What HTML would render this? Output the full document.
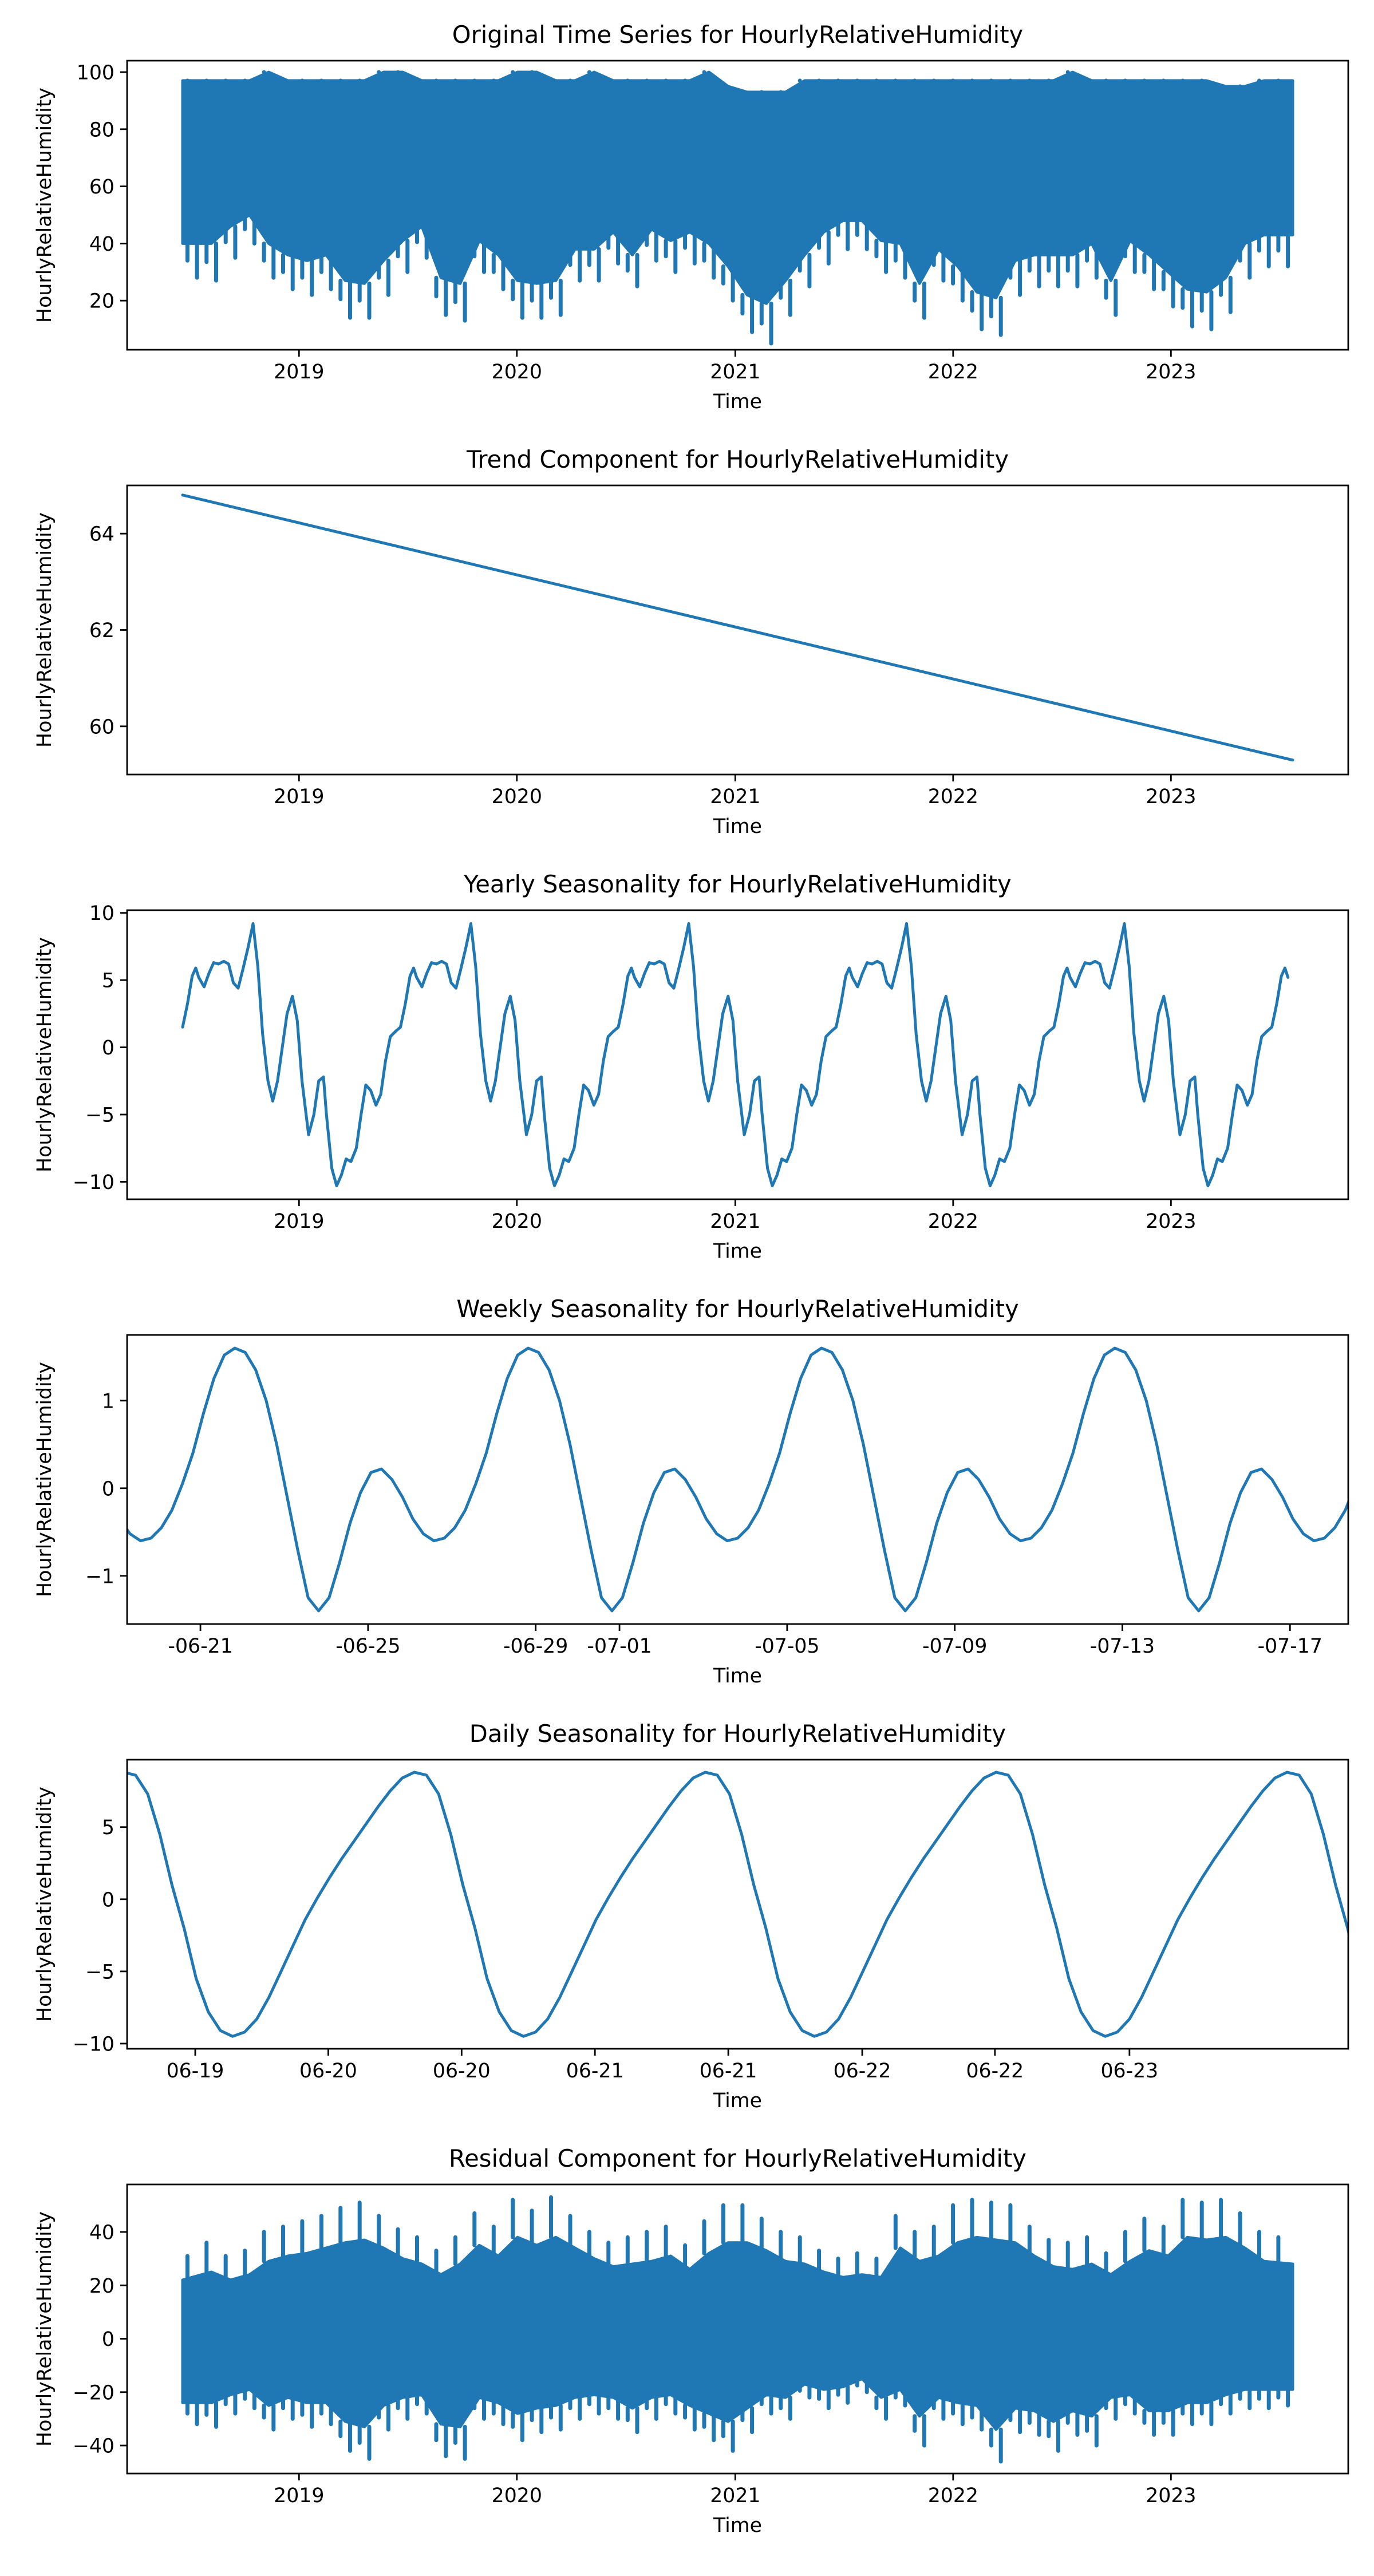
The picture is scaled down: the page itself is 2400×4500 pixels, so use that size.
<!DOCTYPE html>
<html><head><meta charset="utf-8">
<style>
html,body{margin:0;padding:0;background:#fff;}
svg{display:block;}
text{font-family:"DejaVu Sans","Liberation Sans",sans-serif;fill:#000;}
</style></head>
<body>
<svg id="fig" width="2400" height="4500" viewBox="0 0 2400 4500" xmlns="http://www.w3.org/2000/svg">
<rect x="0" y="0" width="2400" height="4500" fill="#fff"/>
</svg>
<script>
// ---------- data ----------
const dataEndDay = 1860;
const yearTickLabels = ["2019","2020","2021","2022","2023"];
const yearTickDays = [195, 560, 926, 1291, 1656];

// Original series: per-bin upper / solid-core lower / spike lower (58 bins)
const origUpper = [97,97,97,97,100,97,97,97,97,97,100,100,97,97,97,97,97,100,100,97,97,100,97,97,97,97,97,100,95,93,93,93,97,97,97,97,97,97,97,97,97,97,97,97,97,97,100,97,97,97,97,97,97,97,95,95,97,97];
const origCore = [40,40,46,50,40,36,34,36,27,26,34,41,46,28,26,41,36,27,26,27,38,38,44,36,45,41,44,40,32,22,19,27,36,44,48,48,41,40,26,38,32,23,21,34,36,36,36,40,27,41,36,30,24,23,28,40,43,43];
const origLower = [28,27,35,40,28,24,22,24,14,14,22,30,35,15,13,30,24,14,14,15,27,27,33,25,34,30,33,28,20,9,5,15,25,33,38,38,30,28,14,27,20,10,8,22,25,25,25,28,15,30,24,18,11,10,16,28,32,32];

const trendValues = [64.8, 59.3];

const yearProfileDay = [0,8,16,22,27,36,44,52,60,69,77,85,93,101,110,118,126,134,143,151,159,167,175,184,192,200,211,220,228,236,241,250,258,266,274,282,291,299,307,315,324,332,340,348,357,365];
const yearProfileVal = [1.5,3.2,5.3,5.9,5.2,4.5,5.5,6.3,6.2,6.4,6.2,4.8,4.4,5.8,7.5,9.2,6.0,1.0,-2.5,-4.0,-2.5,0.0,2.5,3.8,2.0,-2.5,-6.5,-5.0,-2.5,-2.2,-5.0,-9.0,-10.3,-9.5,-8.3,-8.5,-7.5,-5.0,-2.8,-3.2,-4.3,-3.5,-1.0,0.8,1.2,1.5];

const weekProfile = [1.6,1.55,1.35,1.0,0.5,-0.1,-0.7,-1.25,-1.4,-1.25,-0.85,-0.4,-0.05,0.18,0.22,0.1,-0.1,-0.35,-0.52,-0.6,-0.57,-0.45,-0.25,0.05,0.4,0.85,1.25,1.52,1.6];
const weekPeakDay = 2.57;
const weekSpanDays = 29.14;
const weekTickLabels = ["-06-21","-06-25","-06-29","-07-01","-07-05","-07-09","-07-13","-07-17"];
const weekTickDays = [1.75,5.75,9.75,11.75,15.75,19.75,23.75,27.75];

const dayProfile = [8.8,8.6,7.3,4.5,1.0,-2.0,-5.5,-7.8,-9.1,-9.5,-9.2,-8.3,-6.8,-5.0,-3.2,-1.4,0.1,1.5,2.8,4.0,5.2,6.4,7.5,8.4,8.8];
const dayPeakHour = -0.3;
const daySpanHours = 100.75;
const dayTickLabels = ["06-19","06-20","06-20","06-21","06-21","06-22","06-22","06-23"];
const dayTickHours = [5.62,16.6,27.6,38.6,49.6,60.65,71.6,82.7];

// Residual: per-bin spike upper, core upper, core lower, spike lower (58 bins)
const residUpper = [31,36,31,33,40,42,44,46,49,51,46,41,38,33,38,47,42,52,48,53,46,40,36,38,40,42,35,44,50,50,45,40,38,33,30,32,30,46,40,42,50,52,51,50,42,37,36,38,32,40,45,42,52,51,52,47,40,38];
const residCoreHi = [22,25,22,24,29,31,32,34,36,37,34,30,28,24,28,35,31,38,35,38,34,30,27,28,29,31,26,32,36,36,33,29,28,25,23,24,23,34,29,31,36,38,37,36,31,27,26,28,24,29,33,31,38,37,38,34,29,28];
const residCoreLo = [-24,-24,-21,-19,-25,-22,-24,-24,-31,-33,-25,-22,-21,-32,-33,-22,-24,-28,-26,-25,-22,-21,-22,-26,-22,-21,-25,-28,-31,-26,-21,-22,-17,-19,-18,-15,-22,-19,-29,-22,-24,-25,-34,-26,-27,-31,-27,-29,-22,-21,-27,-27,-24,-24,-21,-19,-19,-19];
const residLower = [-32,-33,-28,-26,-34,-30,-33,-32,-42,-45,-34,-30,-28,-44,-45,-30,-32,-38,-35,-34,-30,-28,-30,-35,-30,-28,-34,-38,-42,-35,-28,-30,-22,-26,-24,-20,-30,-25,-40,-30,-32,-34,-46,-35,-36,-42,-36,-40,-30,-28,-36,-36,-32,-32,-28,-26,-26,-25];

const p1Ticks = [20,40,60,80,100];
const p2Ticks = [60,62,64];
const p3Ticks = [-10,-5,0,5,10];
const p4Ticks = [-1,0,1];
const p5Ticks = [-10,-5,0,5];
const p6Ticks = [-40,-20,0,20,40];

// ---------- rendering ----------
const NS = "http://www.w3.org/2000/svg";
const svg = document.getElementById("fig");
const AX_L = 222, AX_R = 2355, AX_H = 505;
const BLUE = "#1f77b4";
function mk(tag, attrs, parent){
  const e = document.createElementNS(NS, tag);
  for (const k in attrs) e.setAttribute(k, attrs[k]);
  (parent || svg).appendChild(e);
  return e;
}
function fmt(v){ return (v < 0 ? "\u2212" : "") + Math.abs(v); }

function panel(idx, top, title, yMin, yMax, yTicks, xMin, xMax, xTickPos, xTickLab, drawFn){
  const g = mk("g", {});
  
  
  const bottom = top + AX_H;
  const xs = v => AX_L + (v - xMin) / (xMax - xMin) * (AX_R - AX_L);
  const ys = v => bottom - (v - yMin) / (yMax - yMin) * AX_H;
  const clipId = "clip" + idx;
  const cp = mk("clipPath", {id: clipId}, g);
  mk("rect", {x: AX_L, y: top, width: AX_R - AX_L, height: AX_H}, cp);
  const plot = mk("g", {"clip-path": "url(#" + clipId + ")"}, g);
  
  
  drawFn(plot, xs, ys);
  const box = mk("rect", {x: AX_L, y: top, width: AX_R - AX_L, height: AX_H, fill: "none", stroke: "#000", "stroke-width": 2.8}, g);
  
  
  yTicks.forEach(t => {
    const y = ys(t);
    mk("line", {x1: AX_L - 12, x2: AX_L, y1: y, y2: y, stroke: "#000", "stroke-width": 2.8}, g);
    const tx = mk("text", {x: AX_L - 22, y: y + 12.5, "font-size": 34.7, "text-anchor": "end"}, g);
    tx.textContent = fmt(t);
    
    
  });
  xTickPos.forEach((p, i) => {
    const x = xs(p);
    mk("line", {x1: x, x2: x, y1: bottom, y2: bottom + 12, stroke: "#000", "stroke-width": 2.8}, g);
    const tx = mk("text", {x: x, y: bottom + 50, "font-size": 34.7, "text-anchor": "middle"}, g);
    tx.textContent = xTickLab[i];
    
    
  });
  const xl = mk("text", {x: (AX_L + AX_R) / 2, y: bottom + 102, "font-size": 34.7, "text-anchor": "middle"}, g);
  xl.textContent = "Time";
  
  
  const cy = top + AX_H / 2;
  const yl = mk("text", {x: 0, y: 0, "font-size": 34.7, "text-anchor": "middle", transform: "translate(89," + cy + ") rotate(-90)"}, g);
  yl.textContent = "HourlyRelativeHumidity";
  
  
  const tt = mk("text", {x: (AX_L + AX_R) / 2, y: top - 31, "font-size": 41.7, "text-anchor": "middle"}, g);
  tt.textContent = title;
  
  
}

const dMin = -93.05, dMax = dataEndDay + 93.05;

function band(spikeHi, coreHi, coreLo, spikeLo){
  return (plot, xs, ys) => {
    const n = coreHi.length, w = dataEndDay / n;
    const cx = i => i === 0 ? 0 : (i === n - 1 ? dataEndDay : (i + 0.5) * w);
    const pts = [];
    for (let i = 0; i < n; i++) pts.push(xs(cx(i)).toFixed(1) + "," + ys(coreHi[i]).toFixed(1));
    for (let i = n - 1; i >= 0; i--) pts.push(xs(cx(i)).toFixed(1) + "," + ys(coreLo[i]).toFixed(1));
    const p = mk("polygon", {points: pts.join(" "), fill: BLUE, stroke: BLUE, "stroke-width": 5, "stroke-linejoin": "round"}, plot);
    
    
    let d = "";
    for (let i = 0; i < n; i++){
      const d0 = i * w;
      const xa = xs(d0 + w * 0.25).toFixed(1), xb = xs(d0 + w * 0.75).toFixed(1);
      d += "M" + xa + "," + ys(spikeHi[i]).toFixed(1) + "V" + ys(coreHi[i]).toFixed(1);
      d += "M" + xb + "," + ys(coreLo[i]).toFixed(1) + "V" + ys(spikeLo[i]).toFixed(1);
      d += "M" + xa + "," + ys(coreLo[i]).toFixed(1) + "V" + ys((coreLo[i] + spikeLo[i]) / 2).toFixed(1);
    }
    const s = mk("path", {d: d, stroke: BLUE, "stroke-width": 7, fill: "none", "stroke-linecap": "round"}, plot);
    
    
  };
}
function line(plot, pts){
  const l = mk("polyline", {points: pts.map(p => p[0].toFixed(1) + "," + p[1].toFixed(1)).join(" "), fill: "none", stroke: BLUE, "stroke-width": 5, "stroke-linejoin": "round", "stroke-linecap": "round"}, plot);
  
  
}

panel(1, 106, "Original Time Series for HourlyRelativeHumidity", 2.8, 104, p1Ticks, dMin, dMax, yearTickDays, yearTickLabels, band(origUpper, origUpper, origCore, origLower));
panel(2, 848, "Trend Component for HourlyRelativeHumidity", 59.0, 65.0, p2Ticks, dMin, dMax, yearTickDays, yearTickLabels, (plot, xs, ys) => {
  line(plot, [[xs(0), ys(trendValues[0])], [xs(dataEndDay), ys(trendValues[1])]]);
});
panel(3, 1590, "Yearly Seasonality for HourlyRelativeHumidity", -11.3, 10.2, p3Ticks, dMin, dMax, yearTickDays, yearTickLabels, (plot, xs, ys) => {
  const pts = [];
  for (let c = 0; c < 6; c++){
    yearProfileDay.forEach((d, i) => {
      if (c > 0 && i === 0) return;
      const day = c * 365 + d;
      if (day <= dataEndDay + 0.01) pts.push([xs(day), ys(yearProfileVal[i])]);
    });
  }
  line(plot, pts);
});
panel(4, 2332, "Weekly Seasonality for HourlyRelativeHumidity", -1.55, 1.75, p4Ticks, 0, weekSpanDays, weekTickDays, weekTickLabels, (plot, xs, ys) => {
  const pts = [];
  const step = 7 / (weekProfile.length - 1);
  for (let c = -1; c < 5; c++){
    weekProfile.forEach((v, i) => {
      if (i === 0 && c > -1) return;
      pts.push([xs(weekPeakDay + c * 7 + i * step), ys(v)]);
    });
  }
  line(plot, pts);
});
panel(5, 3074, "Daily Seasonality for HourlyRelativeHumidity", -10.36, 9.67, p5Ticks, 0, daySpanHours, dayTickHours, dayTickLabels, (plot, xs, ys) => {
  const pts = [];
  for (let c = 0; c < 5; c++){
    dayProfile.forEach((v, i) => {
      if (i === 0 && c > 0) return;
      pts.push([xs(dayPeakHour + c * 24 + i), ys(v)]);
    });
  }
  line(plot, pts);
});
panel(6, 3816, "Residual Component for HourlyRelativeHumidity", -50.5, 57.8, p6Ticks, dMin, dMax, yearTickDays, yearTickLabels, band(residUpper, residCoreHi, residCoreLo, residLower));
</script>
</body></html>
